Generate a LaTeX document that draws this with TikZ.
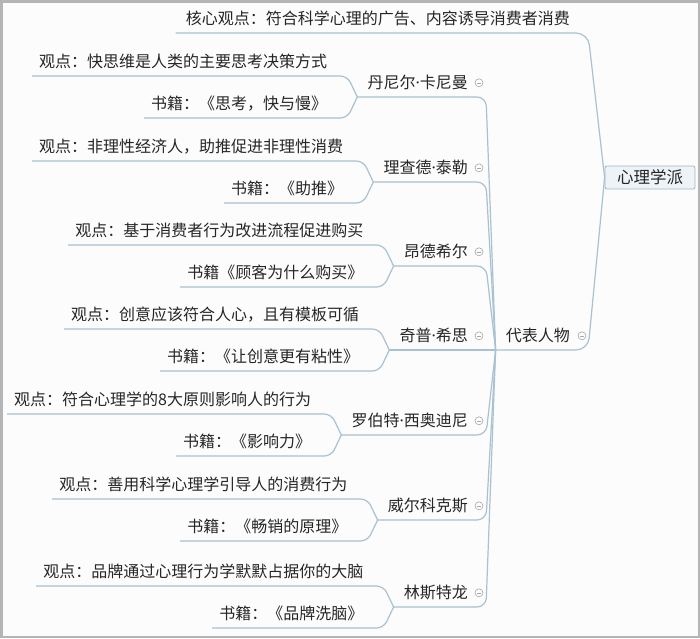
\documentclass[tikz,border=0pt]{standalone}
\usepackage{fontspec}
\newfontfamily\cjk{Noto Sans CJK SC}
\newfontfamily\latinf{Noto Sans}
\newcommand{\mdotx}{{\latinf ·}}
\usetikzlibrary{calc}
\definecolor{linec}{HTML}{A9C1D1}
\definecolor{txt}{HTML}{262626}
\definecolor{framec}{HTML}{B5B5B5}
\definecolor{bgc}{HTML}{FCFCFC}
\definecolor{rootfill}{HTML}{EEF3F7}
\definecolor{rootdraw}{HTML}{A3B7C6}
\definecolor{circc}{HTML}{A8A8A8}
\begin{document}
\begin{tikzpicture}[x=1pt,y=-1pt,
  base/.style={font=\cjk\fontsize{16}{19}\selectfont, text=txt, text height=12pt, text depth=0pt, inner ysep=8pt},
  topic/.style={base, inner xsep=10pt, anchor=south east},
  person/.style={base, inner xsep=10pt, anchor=south east},
  leaf/.style={base, inner xsep=7pt, anchor=south east},
  rootbox/.style={font=\cjk\fontsize{16.5}{19}\selectfont, text=txt, draw=rootdraw, fill=rootfill, line width=0.8pt, minimum width=90pt, minimum height=23pt, inner sep=0pt, rounded corners=2pt, text height=12pt, text depth=0pt},
  conn/.style={draw=linec, line width=1.2pt, rounded corners=9pt},
  collapse/.style={circle, draw=circc, line width=0.6pt, minimum size=8pt, inner sep=0pt,
    path picture={\draw[circc, line width=0.6pt] ([xshift=-2.2pt]path picture bounding box.center) -- ([xshift=2.2pt]path picture bounding box.center);}}
]
\useasboundingbox (0,0) rectangle (700,638);
\fill[bgc] (0,0) rectangle (700,638);
\draw[framec, line width=2.5pt] (1.25,1.25) rectangle (698.75,636.75);

% root
\node[rootbox] (root) at (650,177.5) {心理学派};

% topics
\node[topic] (t1) at (580,33) {核心观点：符合科学心理的广告、内容诱导消费者消费};
\node[topic] (t2) at (580,350) {代表人物};
\node[collapse] (ct2) at ($(t2.east)+(2,0)$) {};

% persons
\node[person] (p1) at (478,97) {丹尼尔\mdotx 卡尼曼};
\node[person] (p2) at (478,182) {理查德\mdotx 泰勒};
\node[person] (p3) at (478,266) {昂德希尔};
\node[person] (p4) at (478,350) {奇普\mdotx 希思};
\node[person] (p5) at (478,435) {罗伯特\mdotx 西奥迪尼};
\node[person] (p6) at (478,520) {威尔科克斯};
\node[person] (p7) at (478,607) {林斯特龙};
\foreach \i in {1,...,7} {
  \node[collapse] (cp\i) at ($(p\i.east)+(1,0)$) {};
}

% leaves
\node[leaf] (l1a) at ($(p1.south west)+(-23,-21)$) {观点：快思维是人类的主要思考决策方式};
\node[leaf] (l1b) at ($(p1.south west)+(-23,21)$) {书籍：《思考，快与慢》};
\node[leaf] (l2a) at ($(p2.south west)+(-23,-21)$) {观点：非理性经济人，助推促进非理性消费};
\node[leaf] (l2b) at ($(p2.south west)+(-23,21)$) {书籍：《助推》};
\node[leaf] (l3a) at ($(p3.south west)+(-23,-21)$) {观点：基于消费者行为改进流程促进购买};
\node[leaf] (l3b) at ($(p3.south west)+(-23,21)$) {书籍《顾客为什么购买》};
\node[leaf] (l4a) at ($(p4.south west)+(-23,-21)$) {观点：创意应该符合人心，且有模板可循};
\node[leaf] (l4b) at ($(p4.south west)+(-23,21)$) {书籍：《让创意更有粘性》};
\node[leaf] (l5a) at ($(p5.south west)+(-23,-21)$) {观点：符合心理学的8大原则影响人的行为};
\node[leaf] (l5b) at ($(p5.south west)+(-23,21)$) {书籍：《影响力》};
\node[leaf] (l6a) at ($(p6.south west)+(-23,-21)$) {观点：善用科学心理学引导人的消费行为};
\node[leaf] (l6b) at ($(p6.south west)+(-23,21)$) {书籍：《畅销的原理》};
\node[leaf] (l7a) at ($(p7.south west)+(-23,-21)$) {观点：品牌通过心理行为学默默占据你的大脑};
\node[leaf] (l7b) at ($(p7.south west)+(-23,21)$) {书籍：《品牌洗脑》};

% connectors root -> topics
\draw[conn, rounded corners=12pt] (root.west) -- ($(t1.south east)+(8,0)$) -- (t1.south west);
\draw[conn, rounded corners=12pt] (root.west) -- ($(t2.south east)+(8,0)$) -- (t2.south west);

% connectors topic -> persons
\foreach \i in {1,...,7} {
  \draw[conn] (t2.south west) -- ($(p\i.south east)+(8,0)$) -- (p\i.south west);
}

% connectors persons -> leaves
\foreach \i in {1,...,7} {
  \draw[conn, rounded corners=7pt] (p\i.south west) -- ($(l\i a.south east)+(13,0)$) -- (l\i a.south west);
  \draw[conn, rounded corners=7pt] (p\i.south west) -- ($(l\i b.south east)+(13,0)$) -- (l\i b.south west);
}
\end{tikzpicture}
\end{document}
